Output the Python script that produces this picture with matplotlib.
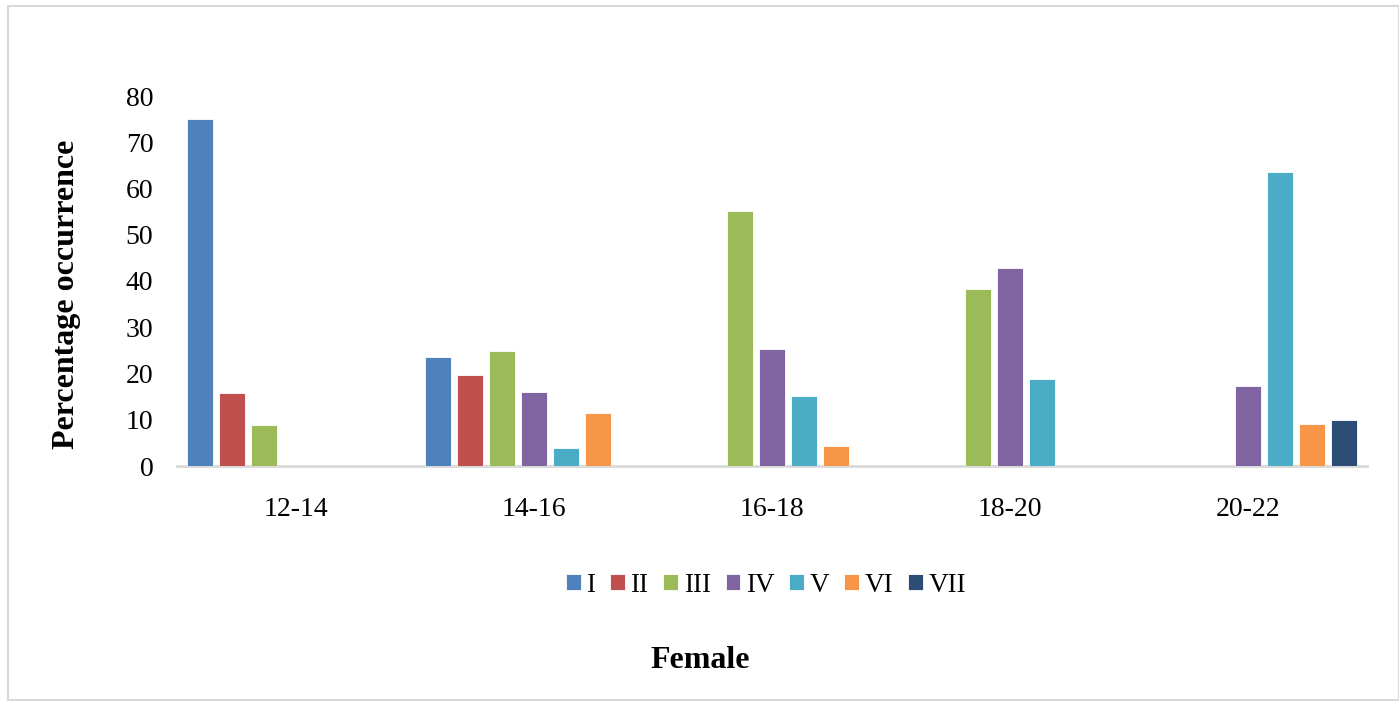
import matplotlib
matplotlib.use("Agg")
import matplotlib.pyplot as plt
import numpy as np
from matplotlib.patches import Rectangle

# ── Data ──────────────────────────────────────────────────────────────────────
age_groups = ["12-14", "14-16", "16-18", "18-20", "20-22"]
stages = ["I", "II", "III", "IV", "V", "VI", "VII"]
stage_I   = [75.0, 23.5, 0, 0, 0]
stage_II  = [15.8, 19.6, 0, 0, 0]
stage_III = [8.9, 24.9, 55.1, 38.2, 0]
stage_IV  = [0, 16.0, 25.2, 42.8, 17.2]
stage_V   = [0, 4.0, 15.1, 18.8, 63.6]
stage_VI  = [0, 11.5, 4.4, 0, 9.0]
stage_VII = [0, 0, 0, 0, 9.9]
series = [stage_I, stage_II, stage_III, stage_IV, stage_V, stage_VI, stage_VII]

colors = ["#4F81BD", "#C0504D", "#9BBB59", "#8064A2", "#4BACC6", "#F79646", "#2C4D75"]

plt.rcParams.update({
    "font.family": ["Liberation Serif", "DejaVu Serif"],
    "font.size": 20,
})

fig = plt.figure(figsize=(13.99, 7.02), dpi=100)
ax = fig.add_axes([177 / 1399, 1 - 466 / 702, (1367 - 177) / 1399, (466 - 96) / 702])

x = np.arange(len(age_groups))
slot = 0.1345
width = 0.109
for i, (name, vals, c) in enumerate(zip(stages, series, colors)):
    ax.bar(x + (i - 3) * slot, vals, width=width, color=c, label=name,
           edgecolor="white", linewidth=0.6, zorder=3)

ax.set_xlim(-0.5, len(age_groups) - 0.5)
ax.set_ylim(0, 80)
ax.set_yticks(np.arange(0, 81, 10))
ax.set_xticks(x)
ax.set_xticklabels(age_groups)
ax.tick_params(axis="both", length=0, labelsize=20)
ax.tick_params(axis="x", pad=22)
ax.tick_params(axis="y", pad=17)
for s in ["top", "right", "left"]:
    ax.spines[s].set_visible(False)
ax.spines["bottom"].set_color("#D9D9D9")
ax.spines["bottom"].set_linewidth(2)

fig.text(67 / 1399, 1 - 294 / 702, "Percentage occurrence", rotation=90,
         ha="center", va="center", fontsize=23, fontweight="bold")
fig.text(700 / 1399, 1 - 660 / 702, "Female", ha="center", va="center",
         fontsize=23, fontweight="bold")

handles, labels = ax.get_legend_handles_labels()
fig.legend(handles, labels, loc="center", bbox_to_anchor=(766 / 1399, 1 - 585 / 702),
           ncol=7, frameon=False, fontsize=19.5, handlelength=0.55, handleheight=0.55,
           handletextpad=0.2, columnspacing=0.55)

fig.patches.append(Rectangle((8 / 1399, 2 / 702), 1 - 8 / 1399, 1 - 8 / 702,
                             transform=fig.transFigure, fill=False,
                             edgecolor="#D9D9D9", linewidth=1.5))

fig.savefig("out.png", dpi=100)
